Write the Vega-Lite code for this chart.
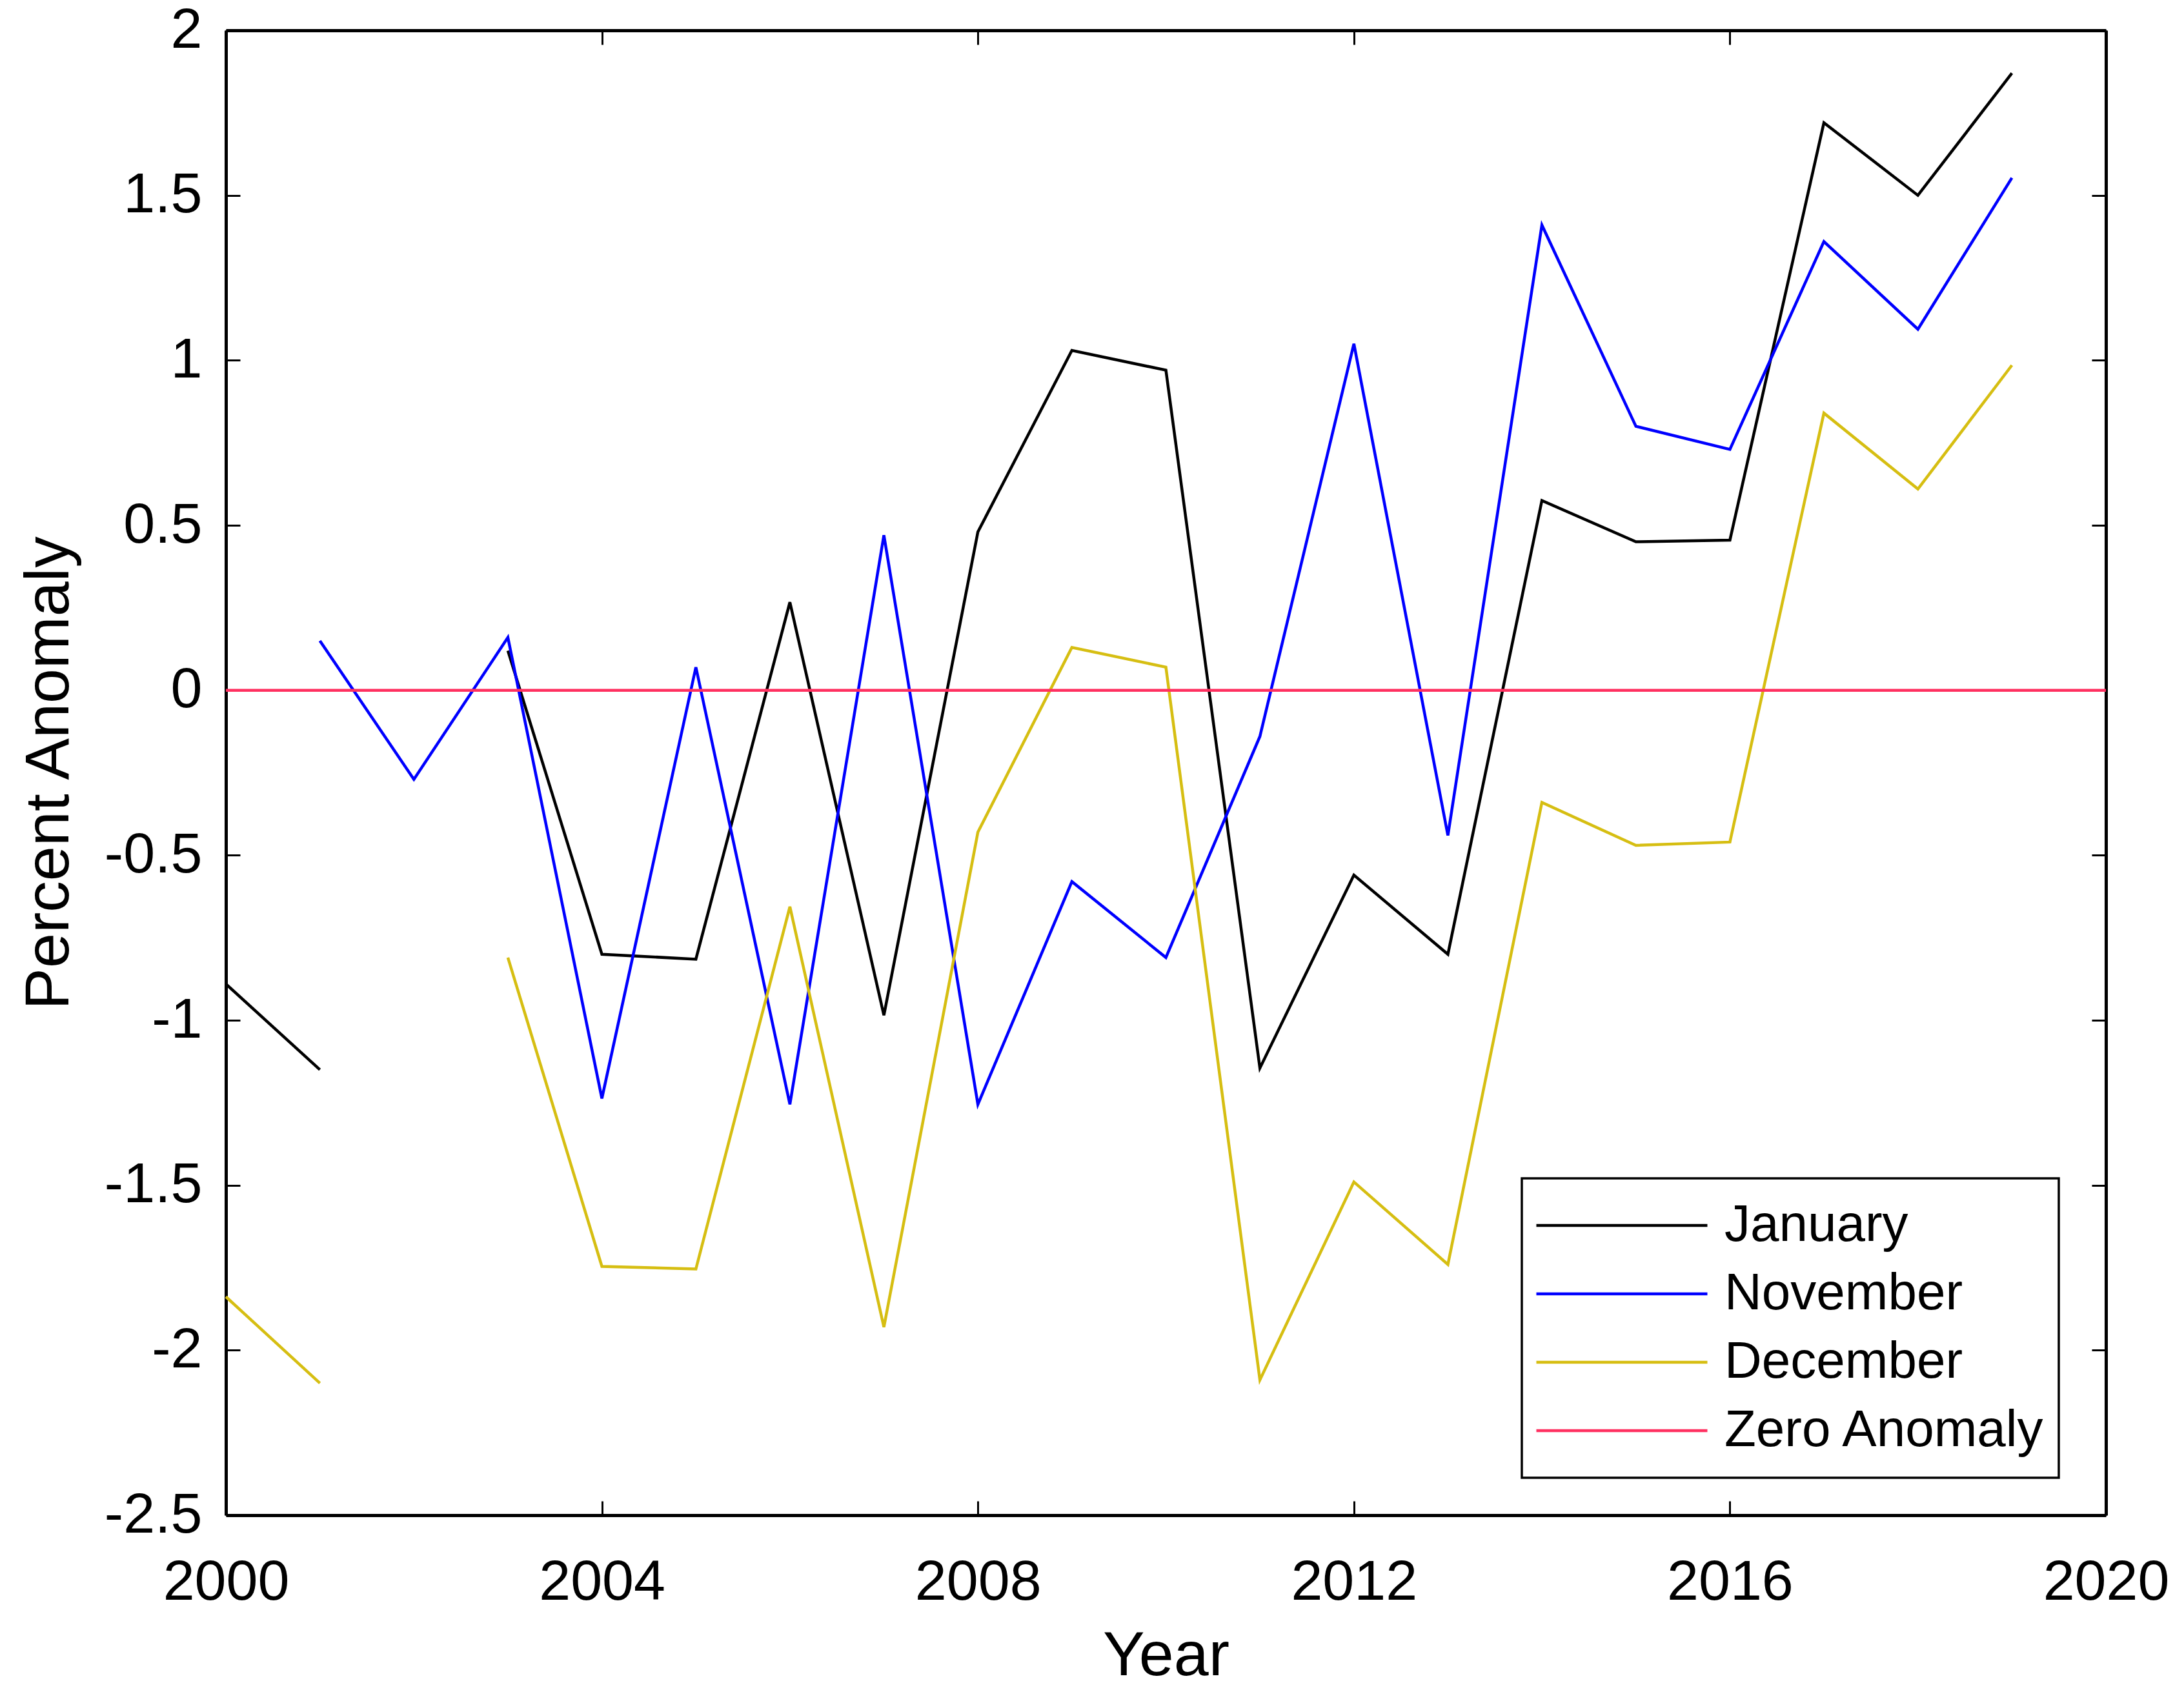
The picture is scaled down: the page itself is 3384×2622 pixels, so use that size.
{
  "$schema": "https://vega.github.io/schema/vega-lite/v6.json",
  "width": 2913,
  "height": 2301,
  "autosize": {"type": "none"},
  "padding": {"left": 350, "top": 47, "right": 121, "bottom": 274},
  "background": "white",
  "config": {
    "view": {"stroke": null},
    "font": "Liberation Sans",
    "legend": {"strokeWidth": 3.5}
  },
  "data": {
    "values": [
      {"year": 2000, "month": "January", "value": -0.89},
      {"year": 2001, "month": "January", "value": -1.15},
      {"year": 2002, "month": "January", "value": null},
      {"year": 2003, "month": "January", "value": 0.12},
      {"year": 2004, "month": "January", "value": -0.80},
      {"year": 2005, "month": "January", "value": -0.815},
      {"year": 2006, "month": "January", "value": 0.267},
      {"year": 2007, "month": "January", "value": -0.985},
      {"year": 2008, "month": "January", "value": 0.48},
      {"year": 2009, "month": "January", "value": 1.03},
      {"year": 2010, "month": "January", "value": 0.97},
      {"year": 2011, "month": "January", "value": -1.145},
      {"year": 2012, "month": "January", "value": -0.56},
      {"year": 2013, "month": "January", "value": -0.80},
      {"year": 2014, "month": "January", "value": 0.575},
      {"year": 2015, "month": "January", "value": 0.45},
      {"year": 2016, "month": "January", "value": 0.455},
      {"year": 2017, "month": "January", "value": 1.72},
      {"year": 2018, "month": "January", "value": 1.50},
      {"year": 2019, "month": "January", "value": 1.87},
      {"year": 2000, "month": "November", "value": null},
      {"year": 2001, "month": "November", "value": 0.15},
      {"year": 2002, "month": "November", "value": -0.27},
      {"year": 2003, "month": "November", "value": 0.16},
      {"year": 2004, "month": "November", "value": -1.237},
      {"year": 2005, "month": "November", "value": 0.07},
      {"year": 2006, "month": "November", "value": -1.255},
      {"year": 2007, "month": "November", "value": 0.47},
      {"year": 2008, "month": "November", "value": -1.255},
      {"year": 2009, "month": "November", "value": -0.58},
      {"year": 2010, "month": "November", "value": -0.81},
      {"year": 2011, "month": "November", "value": -0.14},
      {"year": 2012, "month": "November", "value": 1.05},
      {"year": 2013, "month": "November", "value": -0.44},
      {"year": 2014, "month": "November", "value": 1.41},
      {"year": 2015, "month": "November", "value": 0.80},
      {"year": 2016, "month": "November", "value": 0.73},
      {"year": 2017, "month": "November", "value": 1.36},
      {"year": 2018, "month": "November", "value": 1.094},
      {"year": 2019, "month": "November", "value": 1.553},
      {"year": 2000, "month": "December", "value": -1.838},
      {"year": 2001, "month": "December", "value": -2.10},
      {"year": 2002, "month": "December", "value": null},
      {"year": 2003, "month": "December", "value": -0.81},
      {"year": 2004, "month": "December", "value": -1.746},
      {"year": 2005, "month": "December", "value": -1.754},
      {"year": 2006, "month": "December", "value": -0.656},
      {"year": 2007, "month": "December", "value": -1.93},
      {"year": 2008, "month": "December", "value": -0.43},
      {"year": 2009, "month": "December", "value": 0.13},
      {"year": 2010, "month": "December", "value": 0.07},
      {"year": 2011, "month": "December", "value": -2.09},
      {"year": 2012, "month": "December", "value": -1.49},
      {"year": 2013, "month": "December", "value": -1.74},
      {"year": 2014, "month": "December", "value": -0.34},
      {"year": 2015, "month": "December", "value": -0.47},
      {"year": 2016, "month": "December", "value": -0.46},
      {"year": 2017, "month": "December", "value": 0.84},
      {"year": 2018, "month": "December", "value": 0.61},
      {"year": 2019, "month": "December", "value": 0.985},
      {"year": 2000, "month": "Zero Anomaly", "value": 0},
      {"year": 2020, "month": "Zero Anomaly", "value": 0}
    ]
  },
  "layer": [
    {
      "mark": {"type": "line", "strokeWidth": 4.5, "invalid": "break-paths-show-domains"},
      "encoding": {
        "x": {
          "field": "year",
          "type": "quantitative",
          "scale": {"domain": [2000, 2020], "nice": false, "zero": false},
          "axis": {
            "orient": "bottom",
            "title": "Year",
            "values": [2000, 2004, 2008, 2012, 2016, 2020],
            "format": "d",
            "labelFlush": false,
            "labelLimit": 1000,
            "grid": false,
            "tickSize": -22,
            "tickWidth": 3,
            "tickColor": "black",
            "domainColor": "black",
            "domainWidth": 5,
            "labelFont": "Liberation Sans",
            "labelFontSize": 88,
            "labelColor": "black",
            "labelPadding": 82,
            "titleFont": "Liberation Sans",
            "titleFontSize": 97,
            "titleFontWeight": "normal",
            "titleColor": "black",
            "titlePadding": 22
          }
        },
        "y": {
          "field": "value",
          "type": "quantitative",
          "scale": {"domain": [-2.5, 2], "nice": false, "zero": false},
          "axis": {
            "orient": "left",
            "title": "Percent Anomaly",
            "values": [-2.5, -2, -1.5, -1, -0.5, 0, 0.5, 1, 1.5, 2],
            "labelExpr": "toString(datum.value)",
            "labelFlush": false,
            "labelOverlap": false,
            "labelLimit": 1000,
            "grid": false,
            "tickSize": -22,
            "tickWidth": 3,
            "tickColor": "black",
            "domainColor": "black",
            "domainWidth": 5,
            "labelFont": "Liberation Sans",
            "labelFontSize": 88,
            "labelColor": "black",
            "labelPadding": 59,
            "titleFont": "Liberation Sans",
            "titleFontSize": 97,
            "titleFontWeight": "normal",
            "titleColor": "black",
            "titlePadding": 36
          }
        },
        "color": {
          "field": "month",
          "type": "nominal",
          "scale": {
            "domain": ["January", "November", "December", "Zero Anomaly"],
            "range": ["#000000", "#0000FF", "#D6BE12", "#FF3060"]
          },
          "legend": {
            "title": null,
            "orient": "none",
            "legendX": 2008,
            "legendY": 1779,
            "symbolType": "stroke",
            "symbolSize": 70225,
            "symbolStrokeWidth": 4.5,
            "clipHeight": 106,
            "rowPadding": 0,
            "labelFont": "Liberation Sans",
            "labelFontSize": 80,
            "labelColor": "black",
            "labelOffset": 24,
            "labelLimit": 1000,
            "padding": 20,
            "strokeColor": "black",
            "fillColor": "white"
          }
        }
      }
    },
    {
      "mark": {"type": "point", "opacity": 0},
      "encoding": {
        "x": {
          "field": "year",
          "type": "quantitative",
          "scale": {"domain": [2000, 2020], "nice": false, "zero": false},
          "axis": {
            "orient": "top",
            "title": null,
            "labels": false,
            "values": [2000, 2004, 2008, 2012, 2016, 2020],
            "grid": false,
            "tickSize": -22,
            "tickWidth": 3,
            "tickColor": "black",
            "domainColor": "black",
            "domainWidth": 5
          }
        },
        "y": {
          "field": "value",
          "type": "quantitative",
          "scale": {"domain": [-2.5, 2], "nice": false, "zero": false},
          "axis": {
            "orient": "right",
            "title": null,
            "labels": false,
            "values": [-2.5, -2, -1.5, -1, -0.5, 0, 0.5, 1, 1.5, 2],
            "grid": false,
            "tickSize": -22,
            "tickWidth": 3,
            "tickColor": "black",
            "domainColor": "black",
            "domainWidth": 5
          }
        }
      }
    }
  ],
  "resolve": {"axis": {"x": "independent", "y": "independent"}}
}
